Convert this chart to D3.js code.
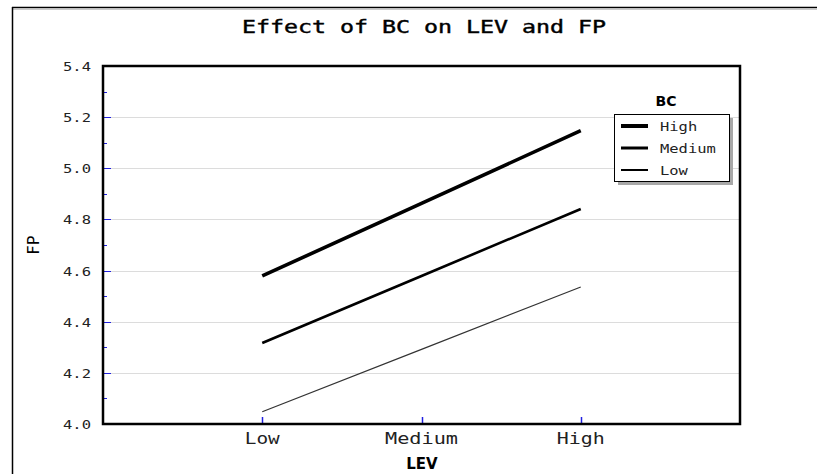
<!DOCTYPE html>
<html><head><meta charset="utf-8">
<script src="https://cdn.jsdelivr.net/npm/d3@7"></script>
<style>body{margin:0;background:#fff}svg{display:block}</style>
</head><body>
<svg id="c" width="817" height="474"></svg>
<script>
const categories = ["Low", "Medium", "High"];
const seriesNames = ["High", "Medium", "Low"];
const highBC = [4.579, 4.863, 5.147];
const mediumBC = [4.317, 4.579, 4.841];
const lowBC = [4.048, 4.292, 4.536];
const yTicks = [4.0, 4.2, 4.4, 4.6, 4.8, 5.0, 5.2, 5.4];
const yMinorTicks = [4.1, 4.3, 4.5, 4.7, 4.9, 5.1, 5.3];
const seriesValues = [highBC, mediumBC, lowBC];
const widths = [3.6, 2.6, 1.2];
const legendWidths = [4, 3, 2];

const svg = d3.select("#c");
const L = 103, R = 740, T = 66, B = 424;
const x = d3.scalePoint().domain(categories).range([L, R]).padding(1);
const y = d3.scaleLinear().domain([4.0, 5.4]).range([B, T]);
const mono = "'DejaVu Sans Mono', 'Liberation Mono', monospace";
const sans = "'DejaVu Sans', Arial, sans-serif";

// outer frame
svg.append("line").attr("x1", 12).attr("x2", 817).attr("y1", 7.5).attr("y2", 7.5).attr("stroke", "#000").attr("stroke-width", 1.5);
svg.append("line").attr("x1", 12).attr("x2", 817).attr("y1", 9.5).attr("y2", 9.5).attr("stroke", "#ccc").attr("stroke-width", 1);
svg.append("line").attr("x1", 12.5).attr("x2", 12.5).attr("y1", 7).attr("y2", 474).attr("stroke", "#000").attr("stroke-width", 1.5);

// title
svg.append("text").attr("x", 424).attr("y", 33).attr("text-anchor", "middle")
  .attr("font-family", mono).attr("font-size", 17).attr("font-weight", "normal")
  .attr("stroke", "#000").attr("stroke-width", 0.4)
  .attr("textLength", 364).attr("lengthAdjust", "spacingAndGlyphs").attr("fill", "#000")
  .text("Effect of BC on LEV and FP");

// gridlines
svg.append("g").selectAll("line").data(yTicks.filter(d => d > 4.0 && d < 5.4)).join("line")
  .attr("x1", L).attr("x2", R).attr("y1", d => Math.round(y(d)) + 0.5).attr("y2", d => Math.round(y(d)) + 0.5)
  .attr("stroke", "#dcdcdc").attr("stroke-width", 1);

// y ticks (blue, inside)
svg.append("g").selectAll("line").data(yTicks).join("line")
  .attr("x1", L).attr("x2", L + 8).attr("y1", d => Math.round(y(d)) + 0.5).attr("y2", d => Math.round(y(d)) + 0.5)
  .attr("stroke", "#2020e0").attr("stroke-width", 1);
svg.append("g").selectAll("line").data(yMinorTicks).join("line")
  .attr("x1", L).attr("x2", L + 4).attr("y1", d => Math.round(y(d)) + 0.5).attr("y2", d => Math.round(y(d)) + 0.5)
  .attr("stroke", "#2020e0").attr("stroke-width", 1);
// x ticks
svg.append("g").selectAll("line").data(categories).join("line")
  .attr("x1", d => Math.round(x(d)) + 0.5).attr("x2", d => Math.round(x(d)) + 0.5).attr("y1", B).attr("y2", B - 7)
  .attr("stroke", "#2020e0").attr("stroke-width", 1.5);

// y tick labels
svg.append("g").selectAll("text").data(yTicks).join("text")
  .attr("x", 91).attr("y", d => y(d) + 5).attr("text-anchor", "end")
  .attr("font-family", mono).attr("font-size", 13).attr("textLength", 28).attr("lengthAdjust", "spacingAndGlyphs")
  .attr("fill", "#222").text(d => d.toFixed(1));
// x tick labels
const xLabW = {Low: 35, Medium: 73, High: 48};
svg.append("g").selectAll("text").data(categories).join("text")
  .attr("x", d => x(d)).attr("y", 444).attr("text-anchor", "middle")
  .attr("font-family", mono).attr("font-size", 15).attr("textLength", d => xLabW[d]).attr("lengthAdjust", "spacingAndGlyphs")
  .attr("fill", "#222").text(d => d);

// axis titles
svg.append("text").attr("x", 422).attr("y", 469).attr("text-anchor", "middle")
  .attr("font-family", sans).attr("font-size", 15).attr("font-weight", "bold").text("LEV");
svg.append("text").attr("transform", "translate(39,245) rotate(-90)").attr("text-anchor", "middle")
  .attr("font-family", sans).attr("font-size", 16).attr("font-weight", "normal").text("FP");

// series lines
const line = d3.line().x((d, i) => x(categories[i])).y(d => y(d));
svg.append("g").selectAll("path").data(seriesValues).join("path")
  .attr("d", d => line(d)).attr("fill", "none").attr("stroke", (d, i) => i === 2 ? "#333" : "#000")
  .attr("stroke-width", (d, i) => widths[i]);

// plot border
svg.append("rect").attr("x", L).attr("y", T).attr("width", R - L).attr("height", B - T)
  .attr("fill", "none").attr("stroke", "#000").attr("stroke-width", 2.5);

// legend
const lx = 614, ly = 114, lw = 115, lh = 67;
svg.append("rect").attr("x", lx + 4).attr("y", ly + 4).attr("width", lw).attr("height", lh).attr("fill", "#a8a8a8");
svg.append("rect").attr("x", lx + 0.5).attr("y", ly + 0.5).attr("width", lw).attr("height", lh)
  .attr("fill", "#fff").attr("stroke", "#000").attr("stroke-width", 1);
svg.append("text").attr("x", 666).attr("y", 106).attr("text-anchor", "middle")
  .attr("font-family", sans).attr("font-size", 14).attr("font-weight", "bold").text("BC");
const lg = svg.append("g").selectAll("g").data(seriesNames).join("g")
  .attr("transform", (d, i) => `translate(0,${126 + i * 22})`);
lg.append("line").attr("x1", 621).attr("x2", 648).attr("y1", 0).attr("y2", 0)
  .attr("stroke", "#000").attr("stroke-width", (d, i) => legendWidths[i]);
lg.append("text").attr("x", 660).attr("y", 5).attr("font-family", mono).attr("font-size", 13)
  .attr("textLength", d => d.length * 9.3).attr("lengthAdjust", "spacingAndGlyphs").attr("fill", "#222").text(d => d);
</script>
</body></html>
